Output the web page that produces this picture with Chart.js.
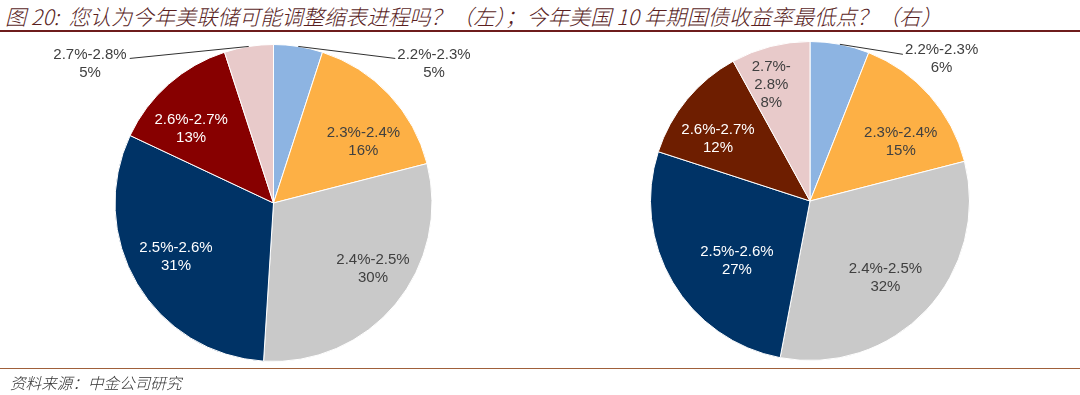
<!DOCTYPE html>
<html><head><meta charset="utf-8">
<script src="https://cdn.jsdelivr.net/npm/chart.js@4/dist/chart.umd.min.js"></script>
<style>
html,body{margin:0;padding:0;background:#fff;}
#wrap{position:relative;width:1080px;height:395px;overflow:hidden;background:#fff;}
#title{position:absolute;left:5px;top:2px;font-family:"Noto Sans CJK SC",sans-serif;font-style:italic;font-weight:300;font-size:21.3px;color:#5a1f1f;white-space:nowrap;line-height:28px;}
#tline{position:absolute;left:0;top:30px;width:1080px;height:2px;background:#6e1c1c;}
#fline{position:absolute;left:0;top:368px;width:1080px;height:1px;background:#a0603a;}
#foot{position:absolute;left:10px;top:371px;font-family:"Noto Sans CJK SC",sans-serif;font-style:italic;font-weight:300;font-size:15.6px;color:#333;white-space:nowrap;line-height:22px;}
.cv{position:absolute;top:0;width:540px;height:395px;}
</style></head>
<body><div id="wrap">
<div id="title">图 20:&nbsp; 您认为今年美联储可能调整缩表进程吗？（左）；今年美国 10 年期国债收益率最低点？（右）</div>
<div id="tline"></div>
<div class="cv" style="left:0"><canvas id="c1" width="540" height="395"></canvas></div>
<div class="cv" style="left:540px"><canvas id="c2" width="540" height="395"></canvas></div>
<div id="fline"></div>
<div id="foot">资料来源：中金公司研究</div>
</div>
<script>
// ---- data ----
const categories = ["2.2%-2.3%","2.3%-2.4%","2.4%-2.5%","2.5%-2.6%","2.6%-2.7%","2.7%-2.8%"];
const leftValues = [5,16,30,31,13,5];
const rightValues = [6,15,32,27,12,8];

// ---- styles ----
const leftColors = ["#8db4e2","#fdb045","#c9c9c9","#003366","#870000","#e8caca"];
const rightColors = ["#8db4e2","#fdb045","#c9c9c9","#003366","#6e1e00","#e8caca"];
const labelInk = ["#404040","#404040","#404040","#ffffff","#ffffff","#404040"];
const FONT = '15px "Liberation Sans", Arial, sans-serif';
const LH = 18;

const labelPlugin = {
  id:'pieLabels',
  afterDatasetsDraw(chart){
    const ctx = chart.ctx;
    const meta = chart.getDatasetMeta(0);
    const ds = chart.data.datasets[0];
    const cfg = chart.options.plugins.pieLabels;
    const total = ds.data.reduce((a,b)=>a+b,0);
    ctx.save();
    ctx.font = FONT;
    ctx.textBaseline = 'middle';
    meta.data.forEach((arc,i)=>{
      const p = arc.getProps(['x','y','startAngle','endAngle','outerRadius'],true);
      const mid = (p.startAngle+p.endAngle)/2;
      const name = chart.data.labels[i];
      const pct = Math.round(ds.data[i]/total*100)+'%';
      const out = cfg.outside[i];
      if(out){
        const ex = p.x + Math.cos(mid)*p.outerRadius;
        const ey = p.y + Math.sin(mid)*p.outerRadius;
        const lx = ex + out[0], ly = ey + out[1];
        ctx.strokeStyle = '#303030'; ctx.lineWidth = 1;
        ctx.beginPath(); ctx.moveTo(ex,ey); ctx.lineTo(lx,ly); ctx.stroke();
        const lines = [name,pct];
        const w = Math.max(...lines.map(s=>ctx.measureText(s).width));
        const cx = out[0] > 0 ? lx + 2 + w/2 : lx - 3 - w/2;
        ctx.fillStyle = '#404040'; ctx.textAlign='center';
        lines.forEach((s,k)=>ctx.fillText(s,cx,ly - 4 + k*LH));
      } else {
        const r = p.outerRadius*cfg.radius;
        const nud = cfg.nudge[i] || [0,0];
        const tx = p.x + Math.cos(mid)*r + nud[0], ty = p.y + Math.sin(mid)*r + nud[1];
        let lines = [name,pct];
        const chord = 2*r*Math.sin((p.endAngle-p.startAngle)/2);
        if(ctx.measureText(name).width > chord){
          const k = name.indexOf('-');
          lines = [name.slice(0,k+1), name.slice(k+1), pct];
        }
        ctx.fillStyle = labelInk[i]; ctx.textAlign='center';
        const y0 = ty - (lines.length-1)*LH/2;
        lines.forEach((s,k)=>ctx.fillText(s,tx,y0+k*LH));
      }
    });
    ctx.restore();
  }
};

function makePie(id, values, colors, padding, outside, nudge){
  new Chart(document.getElementById(id),{
    type:'pie',
    data:{labels:categories,datasets:[{data:values,backgroundColor:colors,borderColor:'#ffffff',borderWidth:1}]},
    options:{
      responsive:false,animation:false,
      layout:{padding:padding},
      plugins:{legend:{display:false},tooltip:{enabled:false},
        pieLabels:{outside:outside,radius:0.7,nudge:nudge}}
    },
    plugins:[labelPlugin]
  });
}
makePie('c1', leftValues, leftColors, {left:114,right:107,top:44,bottom:33},
  [[97,12],null,null,null,null,[-119,12]],
  [null,[9,15],[14,-5],[-2,-3],[-9,9],null]);
makePie('c2', rightValues, rightColors, {left:110,right:110,top:41,bottom:34},
  [[63,10],null,null,null,null,null],
  [null,[7,15],[-6,0],[23,3],[-6,9],[-11,-8]]);
</script>
</body></html>
